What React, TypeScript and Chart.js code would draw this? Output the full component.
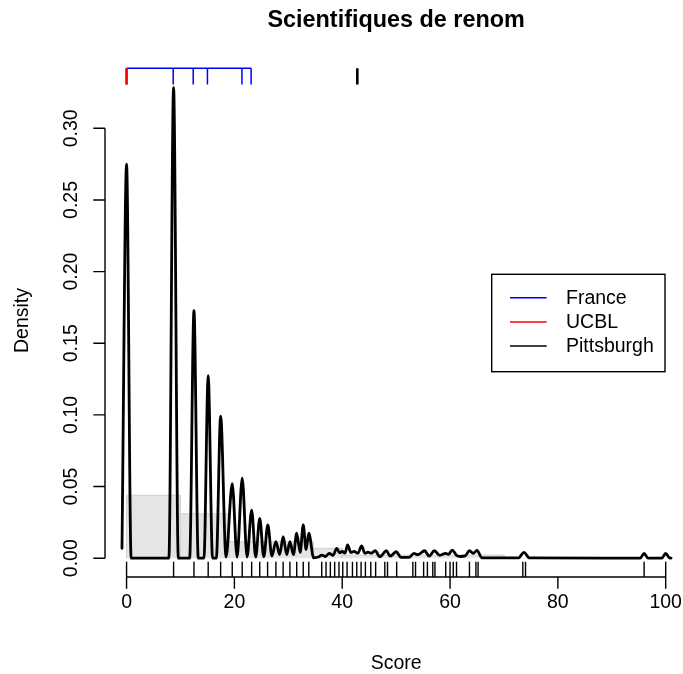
import React, { useEffect, useRef } from "react";
import { Chart, registerables } from "chart.js";

Chart.register(...registerables);

// ---- data -------------------------------------------------------------

// Kernel density of the scores (vertices of the curve)
const densityX = [
  -0.85, 0, 0.85, 7.85, 8.72, 9.6, 11.7, 12.5, 13.3, 14.35, 15.14, 15.95, 16.65,
  17.45, 18.45, 19.6, 20.5, 21.45, 22.35, 23.2, 23.95, 24.7, 25.45, 26.2, 26.95,
  27.7, 28.4, 29.05, 29.7, 30.3, 30.95, 31.56, 32.2, 32.77, 33.3, 33.8, 34.7,
  35.6, 36.2, 36.9, 37.6, 38.3, 39.0, 39.5, 40.0, 40.5, 41.0, 41.6, 42.2, 42.9,
  43.6, 44.2, 44.8, 45.4, 46.1, 47.0, 48.2, 48.9, 50.0, 50.9, 52.4, 53.3, 54.0,
  55.3, 56.1, 57.1, 58.1, 59.2, 59.7, 60.4, 61.2, 61.9, 62.8, 63.6, 64.3, 65.0,
  65.9, 72.7, 73.7, 74.7, 95.3, 96.0, 96.7, 99.3, 100.0, 100.7, 101.0,
];
const densityY = [
  0.0069, 0.275, 0, 0, 0.3286, 0, 0, 0.1727, 0, 0, 0.1274, 0, 0,
  0.0992, 0.0008, 0.052, 0.0008, 0.0558, 0.0008, 0.0336, 0.0008, 0.0278, 0.001, 0.0232, 0.0015,
  0.0115, 0.0025, 0.015, 0.0025, 0.0115, 0.0025, 0.0174, 0.004, 0.0232, 0.006, 0.0174, 0.0003,
  0.0008, 0.0022, 0.0012, 0.0034, 0.002, 0.0069, 0.0038, 0.0048, 0.0035, 0.0092, 0.004, 0.0048, 0.0035,
  0.0085, 0.0034, 0.0042, 0.0035, 0.0052, 0.001, 0.0052, 0.0014, 0.0045, 0.0006, 0.0006, 0.0034, 0.0024,
  0.0052, 0.0014, 0.0052, 0.002, 0.0034, 0.0026, 0.0057, 0.002, 0.0012, 0.0016, 0.0052, 0.0034, 0.0055,
  0.0003, 0.0002, 0.0041, 0.0002, 0.0001, 0.0034, 0.0001, 0.0001, 0.0034, 0.0002, 0.0001,
];

// Histogram (bin edges and densities)
const histEdges = [0, 10, 19, 34.6, 40, 70];
const histHeights = [0.0439, 0.031, 0.0115, 0.0069, 0.0022];

// Individual scores (rug)
const rugScores = [
  0, 8.72, 12.5, 15.14, 17.45, 19.6, 21.45, 23.2, 24.7, 26.16, 27.7, 29.04, 30.3,
  31.56, 32.77, 33.8, 36.2, 37.0, 37.8, 38.6, 39.4, 40.1, 40.9, 41.9, 42.7, 43.5,
  44.3, 45.3, 46.2, 47.9, 48.4, 50.1, 53.1, 53.6, 55.1, 55.8, 56.8, 57.2, 59.2,
  60.0, 60.6, 61.2, 63.6, 64.8, 65.2, 73.5, 74.0, 96.0, 100.0,
];

// Highlighted groups
const franceScores = [0, 8.65, 12.36, 15.0, 21.4, 23.1];
const ucblScores = [0];
const pittsburghScores = [42.8];

const legendLabels = ["France", "UCBL", "Pittsburgh"];
const legendColors = ["#0000ff", "#ff0000", "#000000"];

const xTicks = [0, 20, 40, 60, 80, 100];
const xTickLabels = ["0", "20", "40", "60", "80", "100"];
const yTicks = [0, 0.05, 0.1, 0.15, 0.2, 0.25, 0.3];
const yTickLabels = ["0.00", "0.05", "0.10", "0.15", "0.20", "0.25", "0.30"];

const titleText = "Scientifiques de renom";
const xLabel = "Score";
const yLabel = "Density";

// ---- layout ------------------------------------------------------------

const W = 683;
const H = 674;
const X_MIN = -4;
const X_MAX = 103.21;
const Y_MIN = -0.01312;
const Y_MAX = 0.34488;

// rug and top-mark extents in data units
const RUG_TOP = -0.0024;
const MARK_TOP = 0.342;
const MARK_BOTTOM = 0.3305;

const FONT = '"Liberation Sans", Arial, Helvetica, sans-serif';

type Pt = { x: number; y: number | null };

const ticksAt = (xs: number[], y0: number, y1: number): Pt[] =>
  xs.flatMap((s) => [
    { x: s, y: y0 },
    { x: s, y: y1 },
    { x: s, y: null },
  ]);

const rDecorations = {
  id: "rDecorations",
  afterDraw(chart: any) {
    const { ctx, chartArea } = chart;
    const xs = chart.scales.x;
    const ys = chart.scales.y;
    const tick = 11.7;
    ctx.save();
    ctx.strokeStyle = "#000";
    ctx.fillStyle = "#000";
    ctx.lineWidth = 1.4;
    ctx.lineCap = "butt";

    // x axis
    const ay = chartArea.bottom;
    ctx.beginPath();
    ctx.moveTo(xs.getPixelForValue(xTicks[0]), ay);
    ctx.lineTo(xs.getPixelForValue(xTicks[xTicks.length - 1]), ay);
    xTicks.forEach((t) => {
      const px = xs.getPixelForValue(t);
      ctx.moveTo(px, ay);
      ctx.lineTo(px, ay + tick);
    });
    ctx.stroke();

    // y axis
    const ax = chartArea.left;
    ctx.beginPath();
    ctx.moveTo(ax, ys.getPixelForValue(yTicks[0]));
    ctx.lineTo(ax, ys.getPixelForValue(yTicks[yTicks.length - 1]));
    yTicks.forEach((t) => {
      const py = ys.getPixelForValue(t);
      ctx.moveTo(ax, py);
      ctx.lineTo(ax - tick, py);
    });
    ctx.stroke();

    ctx.font = `19.5px ${FONT}`;
    ctx.textAlign = "center";
    ctx.textBaseline = "alphabetic";
    xTicks.forEach((t, i) => {
      ctx.fillText(xTickLabels[i], xs.getPixelForValue(t), 608);
    });
    yTicks.forEach((t, i) => {
      ctx.save();
      ctx.translate(77, ys.getPixelForValue(t));
      ctx.rotate(-Math.PI / 2);
      ctx.fillText(yTickLabels[i], 0, 0);
      ctx.restore();
    });

    // axis titles
    const cx = (xs.getPixelForValue(X_MIN) + xs.getPixelForValue(104)) / 2;
    ctx.fillText(xLabel, cx, 669);
    ctx.save();
    ctx.translate(28, (chartArea.top + chartArea.bottom) / 2);
    ctx.rotate(-Math.PI / 2);
    ctx.fillText(yLabel, 0, 0);
    ctx.restore();

    // main title
    ctx.font = `bold 23.4px ${FONT}`;
    ctx.fillText(titleText, cx, 27);

    // legend
    const bx = 491.7, by = 274.3, bw = 173.3, bh = 97.4;
    ctx.lineWidth = 1.4;
    ctx.strokeStyle = "#000";
    ctx.strokeRect(bx, by, bw, bh);
    const rows = [297.7, 322, 346];
    ctx.font = `19.5px ${FONT}`;
    ctx.textAlign = "left";
    ctx.textBaseline = "middle";
    legendLabels.forEach((lab, i) => {
      ctx.strokeStyle = legendColors[i];
      ctx.beginPath();
      ctx.moveTo(510, rows[i]);
      ctx.lineTo(546.7, rows[i]);
      ctx.stroke();
      ctx.fillStyle = "#000";
      ctx.fillText(lab, 566, rows[i] + 1);
    });
    ctx.restore();
  },
};

export default function App() {
  const ref = useRef<HTMLCanvasElement | null>(null);

  useEffect(() => {
    if (!ref.current) return;

    const densityPoints: Pt[] = densityX.map((x, i) => ({ x, y: densityY[i] }));

    const histPoints: Pt[] = [];
    histHeights.forEach((h, i) => {
      const a = histEdges[i];
      const b = histEdges[i + 1];
      histPoints.push({ x: a, y: 0 }, { x: a, y: h }, { x: b, y: h }, { x: b, y: 0 });
    });

    const fMin = Math.min(...franceScores);
    const fMax = Math.max(...franceScores);
    const francePoints: Pt[] = [
      { x: fMin, y: MARK_TOP },
      { x: fMax, y: MARK_TOP },
      { x: fMax, y: null },
      ...ticksAt(franceScores, MARK_TOP, MARK_BOTTOM),
    ];

    const common = { pointRadius: 0, tension: 0, fill: false, spanGaps: false };

    const chart = new Chart(ref.current, {
      type: "line",
      data: {
        datasets: [
          {
            ...common,
            data: histPoints as any,
            backgroundColor: "#e5e5e5",
            borderColor: "#d2d2d2",
            borderWidth: 1,
            fill: "origin",
            order: 6,
          },
          {
            ...common,
            data: ticksAt(rugScores, Y_MIN, RUG_TOP) as any,
            borderColor: "#000",
            borderWidth: 1.4,
            order: 5,
          },
          {
            ...common,
            data: densityPoints as any,
            borderColor: "#000",
            borderWidth: 2.8,
            cubicInterpolationMode: "monotone",
            borderJoinStyle: "round",
            borderCapStyle: "round",
            order: 4,
          },
          {
            ...common,
            data: francePoints as any,
            borderColor: "#0000ff",
            borderWidth: 1.5,
            order: 3,
          },
          {
            ...common,
            data: ticksAt(ucblScores, MARK_TOP, MARK_BOTTOM) as any,
            borderColor: "#ff0000",
            borderWidth: 2.6,
            order: 2,
          },
          {
            ...common,
            data: ticksAt(pittsburghScores, MARK_TOP, MARK_BOTTOM) as any,
            borderColor: "#000000",
            borderWidth: 2.6,
            order: 1,
          },
        ],
      },
      options: {
        animation: false,
        responsive: false,
        events: [],
        layout: { padding: { left: 105, right: 0, top: 64, bottom: 97 } },
        scales: {
          x: { type: "linear", min: X_MIN, max: X_MAX, display: false },
          y: { type: "linear", min: Y_MIN, max: Y_MAX, display: false },
        },
        plugins: {
          legend: { display: false },
          tooltip: { enabled: false },
          title: { display: false },
        },
      },
      plugins: [rDecorations],
    });

    return () => chart.destroy();
  }, []);

  return (
    <div style={{ position: "absolute", left: 0, top: 0, width: W, height: H, background: "#fff" }}>
      <canvas ref={ref} width={W} height={H} style={{ display: "block" }} />
    </div>
  );
}
